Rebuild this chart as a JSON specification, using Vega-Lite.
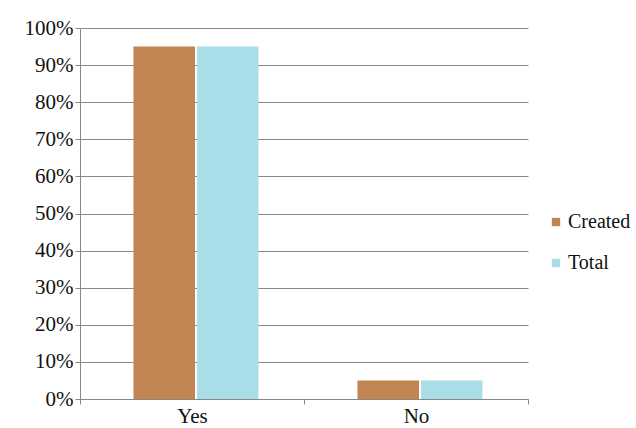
{
  "$schema": "https://vega.github.io/schema/vega-lite/v6.json",
  "width": 448,
  "height": 371,
  "autosize": {"type": "none"},
  "padding": {"left": 80, "top": 28, "right": 108, "bottom": 29},
  "background": "white",
  "data": {"values": [
    {"answer": "Yes", "series": "Created", "value": 0.95},
    {"answer": "Yes", "series": "Total", "value": 0.95},
    {"answer": "No", "series": "Created", "value": 0.05},
    {"answer": "No", "series": "Total", "value": 0.05}
  ]},
  "mark": {"type": "bar"},
  "encoding": {
    "x": {
      "field": "answer", "type": "nominal", "sort": ["Yes", "No"],
      "scale": {"paddingInner": 0, "paddingOuter": 0},
      "axis": {"title": null, "labelAngle": 0, "labelFontSize": 21, "labelColor": "#111",
        "tickBand": "extent", "domainColor": "#888", "tickColor": "#888", "tickSize": 5, "labelPadding": 1, "grid": false}
    },
    "xOffset": {"field": "series", "type": "nominal", "sort": ["Created", "Total"], "scale": {"paddingInner": 0.03, "paddingOuter": 0.78, "align": 0.54}},
    "y": {
      "field": "value", "type": "quantitative",
      "scale": {"domain": [0, 1], "nice": false},
      "axis": {"title": null, "format": ".0%", "values": [0, 0.1, 0.2, 0.3, 0.4, 0.5, 0.6, 0.7, 0.8, 0.9, 1],
        "labelFontSize": 21, "labelColor": "#111", "gridColor": "#8a8a8a", "gridWidth": 1.2,
        "domainColor": "#888", "tickColor": "#888", "tickSize": 5, "labelPadding": 2}
    },
    "color": {
      "field": "series", "type": "nominal", "sort": ["Created", "Total"],
      "scale": {"domain": ["Created", "Total"], "range": ["#c08550", "#a9dde8"]},
      "legend": {"title": null, "labelFontSize": 20, "labelColor": "#111",
        "symbolType": "square", "symbolSize": 70, "rowPadding": 21, "orient": "none", "legendX": 466, "legendY": 184, "labelOffset": 2}
    }
  },
  "config": {"view": {"stroke": null}, "font": "Liberation Serif",
    "axis": {"labelFont": "Liberation Serif"},
    "legend": {"labelFont": "Liberation Serif"}}
}
